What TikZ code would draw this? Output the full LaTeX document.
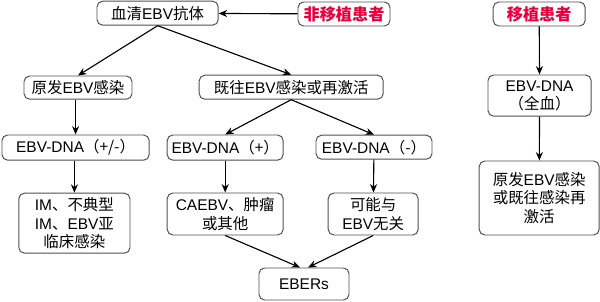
\documentclass[tikz,border=0pt]{standalone}
\usepackage{fontspec}
\setmainfont{Liberation Sans}
\newfontfamily\zh{Noto Sans CJK SC}
\usepackage{tikz}
\usetikzlibrary{arrows.meta, positioning}
\definecolor{myred}{RGB}{232,0,60}
\definecolor{myframe}{RGB}{80,80,80}
\tikzset{
  box/.style={rectangle, draw=myframe, fill=white, align=center,
    rounded corners=4pt, line width=0.7pt, inner sep=1pt,
    font=\fontsize{11}{13}\selectfont},
  redbox/.style={box, text=myred, font=\fontsize{11.5}{13}\selectfont\bfseries},
  arrow/.style={-{Stealth[length=6pt,width=5pt]}, line width=0.8pt, color=black}
}
\begin{document}
\begin{tikzpicture}
  \useasboundingbox (0,0) rectangle (15,-7.525);

  % Non-transplant branch
  \node[box, minimum width=3.03cm, minimum height=0.6cm] (serum) at (3.94,-0.33) {{\zh 血清}EBV{\zh 抗体}};
  \node[redbox, minimum width=2.3cm, minimum height=0.6cm] (nontx) at (8.6,-0.35) {{\zh\bfseries 非移植患者}};
  \node[box, minimum width=2.7cm, minimum height=0.58cm] (primary) at (1.95,-2.19) {{\zh 原发}EBV{\zh 感染}};
  \node[box, minimum width=4.6cm, minimum height=0.6cm] (past) at (7.28,-2.18) {{\zh 既往}EBV{\zh 感染或再激活}};

  \node[box, minimum width=3.68cm, minimum height=0.63cm] (dnapm) at (1.89,-3.69) {EBV-DNA{\zh （+/-）}};
  \node[box, minimum width=2.9cm, minimum height=0.63cm] (dnap) at (5.63,-3.69) {EBV-DNA{\zh （+）}};
  \node[box, minimum width=2.9cm, minimum height=0.6cm] (dnan) at (9.35,-3.68) {EBV-DNA{\zh （-）}};

  \node[box, minimum width=2.78cm, minimum height=1.5cm] (im) at (1.86,-5.58)
    {IM{\zh 、不典型}\\IM{\zh 、}EBV{\zh 亚}\\{\zh 临床感染}};
  \node[box, minimum width=2.9cm, minimum height=1.05cm] (caebv) at (5.63,-5.35)
    {CAEBV{\zh 、肿瘤}\\{\zh 或其他}};
  \node[box, minimum width=2.25cm, minimum height=1.05cm] (maybe) at (9.33,-5.35)
    {{\zh 可能与}\\EBV{\zh 无关}};
  \node[box, minimum width=2.25cm, minimum height=0.8cm] (ebers) at (7.6,-7.1) {EBERs};

  % Transplant branch
  \node[redbox, minimum width=2.3cm, minimum height=0.6cm] (tx) at (13.48,-0.35) {{\zh\bfseries 移植患者}};
  \node[box, minimum width=2.58cm, minimum height=1.03cm] (dnawb) at (13.49,-2.39) {EBV-DNA\\{\zh （全血）}};
  \node[box, minimum width=3.0cm, minimum height=1.85cm] (txres) at (13.48,-4.95)
    {{\zh 原发}EBV{\zh 感染}\\{\zh 或既往感染再}\\{\zh 激活}};

  % Connectors
  \draw[arrow] (nontx) -- (serum);
  \draw[arrow] (serum.south) -- (primary.north);
  \draw[arrow] (serum.south) -- (past.north);
  \draw[arrow] (dnapm.north |- primary.south) -- (dnapm.north);
  \draw[arrow] (im.north |- dnapm.south) -- (im.north);
  \draw[arrow] (past.south) -- (dnap.north);
  \draw[arrow] (past.south) -- (dnan.north);
  \draw[arrow] (dnap) -- (caebv);
  \draw[arrow] (dnan) -- (maybe);
  \draw[arrow] (caebv.south) -- ([xshift=-0.1cm]ebers.north);
  \draw[arrow] (maybe.south) -- ([xshift=0.1cm]ebers.north);
  \draw[arrow] (tx) -- (dnawb);
  \draw[arrow] (dnawb) -- (txres);
\end{tikzpicture}
\end{document}
